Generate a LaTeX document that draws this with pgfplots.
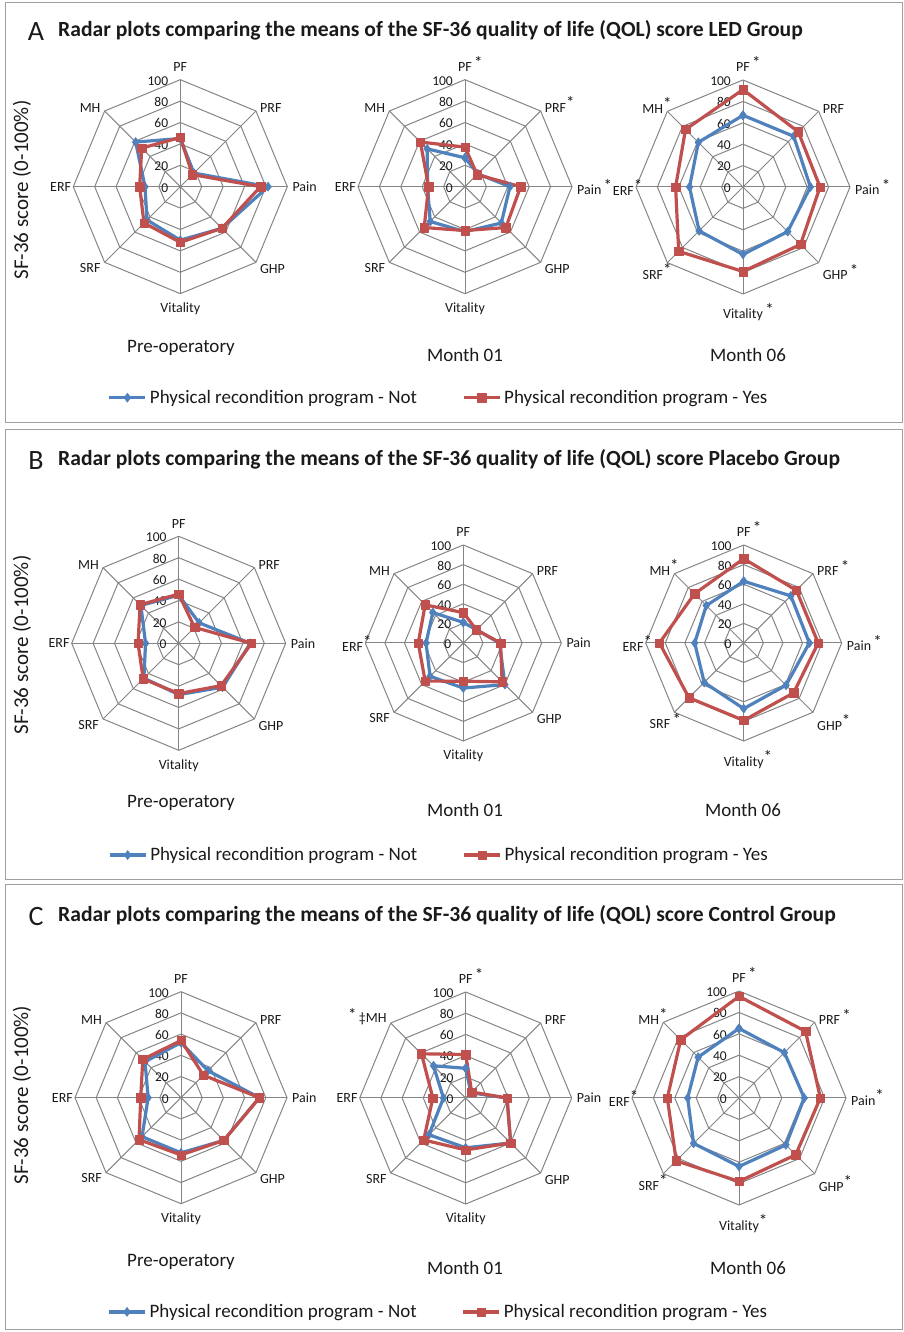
\documentclass[border=0pt]{standalone}
\usepackage{fontspec}
\setmainfont{Carlito}
\usepackage{pgfplots}
\pgfplotsset{compat=1.18}
\definecolor{xblue}{HTML}{4F81BD}
\definecolor{xred}{HTML}{C0504D}
\definecolor{gridc}{HTML}{858585}
\definecolor{txt}{HTML}{1A1A1A}
\definecolor{boxc}{HTML}{A0A0A0}
\newcommand\fs[1]{\fontsize{#1}{#1}\selectfont}
\newcommand\myast{{\fs{17}*}}
\newcommand\sig{\rlap{\,\raisebox{3pt}{\myast}}}
\newcommand\sigt{\rlap{\raisebox{4pt}{\myast}}}
\tikzset{
  lab/.style={font=\fs{14}, text=txt, inner sep=0pt},
  tck/.style={font=\fs{13.5}, text=txt, inner sep=0pt, anchor=east, xshift=-12pt, yshift=-1pt},
}
\pgfplotsset{
  radar/.style={anchor=center, scale only axis, hide axis, clip=false,
    xmin=-100, xmax=100, ymin=-100, ymax=100},
  gridl/.style={gridc, line width=1pt, forget plot, data cs=polar, mark=none},
  notp/.style={xblue, line width=3.2pt, line join=round, mark=diamond*, mark size=4.6pt,
    mark options={solid, line width=0.4pt}, data cs=polar},
  yesp/.style={xred, line width=3.2pt, line join=round, mark=square*, mark size=4.2pt,
    mark options={solid, line width=0.4pt}, data cs=polar},
  radarlegend/.style={legend columns=2,
    legend image code/.code={\draw[mark repeat=2, mark phase=2, ##1] plot coordinates {(0pt,0pt) (18pt,0pt) (36pt,0pt)};},
    legend style={draw=none, fill=none, anchor=center, font=\fs{19}, text=txt,
      nodes={inner xsep=3pt, inner ysep=1pt},
      /tikz/every even column/.append style={column sep=42pt}}},
}
\newcommand\radargrid{%
  \addplot[gridl] coordinates {(90,20)(45,20)(0,20)(-45,20)(-90,20)(-135,20)(180,20)(135,20)(90,20)};
  \addplot[gridl] coordinates {(90,40)(45,40)(0,40)(-45,40)(-90,40)(-135,40)(180,40)(135,40)(90,40)};
  \addplot[gridl] coordinates {(90,60)(45,60)(0,60)(-45,60)(-90,60)(-135,60)(180,60)(135,60)(90,60)};
  \addplot[gridl] coordinates {(90,80)(45,80)(0,80)(-45,80)(-90,80)(-135,80)(180,80)(135,80)(90,80)};
  \addplot[gridl] coordinates {(90,100)(45,100)(0,100)(-45,100)(-90,100)(-135,100)(180,100)(135,100)(90,100)};
  \addplot[gridl] coordinates {(90,100)(-90,100)};
  \addplot[gridl] coordinates {(45,100)(-135,100)};
  \addplot[gridl] coordinates {(0,100)(180,100)};
  \addplot[gridl] coordinates {(-45,100)(135,100)};
  \pgfplotsinvokeforeach{0,20,40,60,80,100}{\node[tck] at (axis cs:0,##1) {##1};}%
}
\newcommand\radarlabels[8]{%
  \node[lab, anchor=south, yshift=8pt] at (axis cs:0,100) {#1};
  \node[lab, anchor=south west, xshift=4pt, yshift=-2pt] at (axis cs:70.71,70.71) {#2};
  \node[lab, anchor=west, xshift=5pt] at (axis cs:100,0) {#3};
  \node[lab, anchor=north west, xshift=4pt, yshift=-2pt] at (axis cs:70.71,-70.71) {#4};
  \node[lab, anchor=north, yshift=-9pt] at (axis cs:0,-100) {#5};
  \node[lab, anchor=north east, xshift=-4pt, yshift=-1pt] at (axis cs:-70.71,-70.71) {#6};
  \node[lab, anchor=east, xshift=-2pt] at (axis cs:-100,0) {#7};
  \node[lab, anchor=south east, xshift=-4pt, yshift=-2pt] at (axis cs:-70.71,70.71) {#8};
}
\begin{document}
\begin{tikzpicture}
\path[use as bounding box] (0pt,0pt) rectangle (904pt,1332pt);
% ---------------- panel boxes
\draw[boxc, line width=1pt] (5pt,909pt) rectangle (902pt,1329pt);
\draw[boxc, line width=1pt] (5pt,452pt) rectangle (902pt,902pt);
\draw[boxc, line width=1pt] (5pt,2pt) rectangle (902pt,447pt);
% ================= PANEL A
\node[font=\fs{28}, text=txt] at (36pt,1300pt) {A};
\node[font=\bfseries\fs{21.6}, text=txt, anchor=west, inner sep=0pt] at (58pt,1302pt) {Radar plots comparing the means of the SF-36 quality of life (QOL) score LED Group};
\node[rotate=90, font=\fs{21}, text=txt] at (22pt,1142pt) {SF-36 score (0-100\%)};
\node[font=\fs{19}, text=txt] at (181pt,984pt) {Pre-operatory};
\node[font=\fs{19}, text=txt] at (465pt,977pt) {Month 01};
\node[font=\fs{19}, text=txt] at (748pt,977pt) {Month 06};
\begin{axis}[radar, at={(180.3pt,1145.3pt)}, width=214pt, height=214pt]
\radargrid
\addplot[notp] coordinates {(90,45)(45,18)(0,82)(-45,55)(-90,50)(-135,44)(180,33)(135,59)(90,45)};
\addplot[yesp] coordinates {(90,46)(45,16)(0,75)(-45,55)(-90,52)(-135,48)(180,38)(135,51)(90,46)};
\radarlabels{PF}{PRF}{Pain}{GHP}{Vitality}{SRF}{ERF}{MH}
\end{axis}
\begin{axis}[radar, radarlegend, at={(465pt,1145.3pt)}, width=214pt, height=214pt,
  legend style={at={(axis description cs:0.379,-0.486)}}]
\radargrid
\addplot[notp] coordinates {(90,27)(45,17)(0,42)(-45,48)(-90,42)(-135,46)(180,35)(135,50)(90,27)};
\addlegendentry{Physical recondition program - Not}
\addplot[yesp] coordinates {(90,37)(45,16)(0,52)(-45,54)(-90,41)(-135,54)(180,34)(135,59)(90,37)};
\addlegendentry{Physical recondition program - Yes}
\radarlabels{PF\sig}{PRF\sigt}{Pain\sig}{GHP}{Vitality}{SRF}{ERF}{MH}
\end{axis}
\begin{axis}[radar, at={(743pt,1145pt)}, width=214pt, height=214pt]
\radargrid
\addplot[notp] coordinates {(90,67)(45,67)(0,63)(-45,59)(-90,63)(-135,58)(180,50)(135,59)(90,67)};
\addplot[yesp] coordinates {(90,91)(45,73)(0,72)(-45,76)(-90,79)(-135,85)(180,63)(135,76)(90,91)};
\radarlabels{PF\sig}{PRF}{Pain\sig}{GHP\sig}{Vitality\sig}{SRF\sigt}{ERF\sigt}{MH\sigt}
\end{axis}
% ================= PANEL B
\node[font=\fs{28}, text=txt] at (36pt,871pt) {B};
\node[font=\bfseries\fs{21.6}, text=txt, anchor=west, inner sep=0pt] at (58pt,873pt) {Radar plots comparing the means of the SF-36 quality of life (QOL) score Placebo Group};
\node[rotate=90, font=\fs{21}, text=txt] at (22pt,687pt) {SF-36 score (0-100\%)};
\node[font=\fs{19}, text=txt] at (181pt,529pt) {Pre-operatory};
\node[font=\fs{19}, text=txt] at (465pt,522pt) {Month 01};
\node[font=\fs{19}, text=txt] at (743pt,522pt) {Month 06};
\begin{axis}[radar, at={(178.7pt,688.7pt)}, width=214pt, height=214pt]
\radargrid
\addplot[notp] coordinates {(90,45)(45,27)(0,67)(-45,58)(-90,48)(-135,46)(180,31)(135,50)(90,45)};
\addplot[yesp] coordinates {(90,46)(45,21)(0,68)(-45,56)(-90,47)(-135,47)(180,38)(135,51)(90,46)};
\radarlabels{PF}{PRF}{Pain}{GHP}{Vitality}{SRF}{ERF}{MH}
\end{axis}
\begin{axis}[radar, radarlegend, at={(463.3pt,689pt)}, width=196pt, height=196pt,
  legend style={at={(axis description cs:0.378,-0.582)}}]
\radargrid
\addplot[notp] coordinates {(90,21)(45,19)(0,37)(-45,60)(-90,46)(-135,48)(180,38)(135,44)(90,21)};
\addlegendentry{Physical recondition program - Not}
\addplot[yesp] coordinates {(90,31)(45,19)(0,38)(-45,56)(-90,39)(-135,55)(180,46)(135,55)(90,31)};
\addlegendentry{Physical recondition program - Yes}
\radarlabels{PF}{PRF}{Pain}{GHP}{Vitality}{SRF}{ERF\sigt}{MH}
\end{axis}
\begin{axis}[radar, at={(743.7pt,689pt)}, width=196pt, height=196pt]
\radargrid
\addplot[notp] coordinates {(90,63)(45,68)(0,67)(-45,61)(-90,67)(-135,57)(180,50)(135,54)(90,63)};
\addplot[yesp] coordinates {(90,86)(45,76)(0,76)(-45,72)(-90,79)(-135,79)(180,86)(135,71)(90,86)};
\radarlabels{PF\sig}{PRF\sig}{Pain\sig}{GHP\sigt}{Vitality\sigt}{SRF\sig}{ERF\sigt}{MH\sigt}
\end{axis}
% ================= PANEL C
\node[font=\fs{28}, text=txt] at (36pt,415pt) {C};
\node[font=\bfseries\fs{21.6}, text=txt, anchor=west, inner sep=0pt] at (58pt,417pt) {Radar plots comparing the means of the SF-36 quality of life (QOL) score Control Group};
\node[rotate=90, font=\fs{21}, text=txt] at (22pt,237pt) {SF-36 score (0-100\%)};
\node[font=\fs{19}, text=txt] at (181pt,70pt) {Pre-operatory};
\node[font=\fs{19}, text=txt] at (465pt,64pt) {Month 01};
\node[font=\fs{19}, text=txt] at (748pt,64pt) {Month 06};
\begin{axis}[radar, at={(181pt,234.3pt)}, width=212pt, height=212pt]
\radargrid
\addplot[notp] coordinates {(90,52)(45,36)(0,74)(-45,57)(-90,52)(-135,52)(180,31)(135,48)(90,52)};
\addplot[yesp] coordinates {(90,54)(45,30)(0,74)(-45,57)(-90,54)(-135,56)(180,38)(135,51)(90,54)};
\radarlabels{PF}{PRF}{Pain}{GHP}{Vitality}{SRF}{ERF}{MH}
\end{axis}
\begin{axis}[radar, radarlegend, at={(465.7pt,234pt)}, width=212pt, height=212pt,
  legend style={at={(axis description cs:0.373,-0.509)}}]
\radargrid
\addplot[notp] coordinates {(90,28)(45,7)(0,39)(-45,60)(-90,47)(-135,49)(180,21)(135,43)(90,28)};
\addlegendentry{Physical recondition program - Not}
\addplot[yesp] coordinates {(90,41)(45,8)(0,39)(-45,60)(-90,49)(-135,56)(180,31)(135,59)(90,41)};
\addlegendentry{Physical recondition program - Yes}
\radarlabels{PF\sig}{PRF}{Pain}{GHP}{Vitality}{SRF}{ERF}{\llap{\raisebox{2pt}{\myast}\,‡}MH}
\end{axis}
\begin{axis}[radar, at={(739pt,234pt)}, width=214pt, height=214pt]
\radargrid
\addplot[notp] coordinates {(90,65)(45,60)(0,61)(-45,62)(-90,64)(-135,60)(180,48)(135,54)(90,65)};
\addplot[yesp] coordinates {(90,95)(45,88)(0,76)(-45,75)(-90,78)(-135,83)(180,67)(135,77)(90,95)};
\radarlabels{PF\sig}{PRF\sig}{Pain\sigt}{GHP\sigt}{Vitality\sigt}{SRF\sigt}{ERF\sigt}{MH\sigt}
\end{axis}
\end{tikzpicture}
\end{document}
